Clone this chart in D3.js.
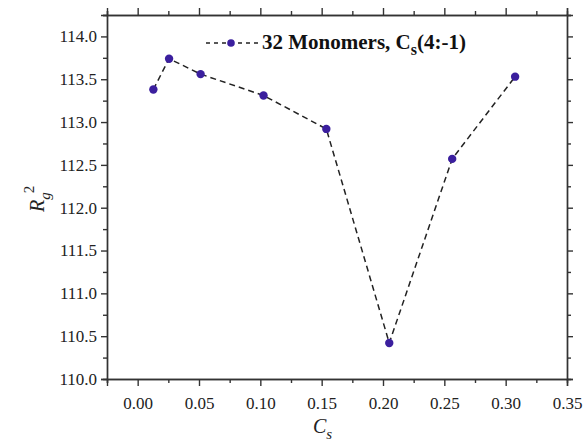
<!DOCTYPE html>
<html lang="en">
<head>
    <meta charset="UTF-8">
    <title>Rg2 vs Cs</title>
    <script src="https://d3js.org/d3.v7.min.js"></script>
    <style>
        body { margin: 0; background: #fff; }
        svg text { font-family: "Liberation Serif", "Times New Roman", Times, "DejaVu Serif", serif; }
        .tick text { font-size: 17px; fill: #222; }
        .axis path, .axis line { stroke: #333; stroke-width: 1.4px; }
        .series { fill: none; stroke: #222; stroke-width: 1.5px; stroke-dasharray: 6 4; }
        .dot { fill: #3b1f9e; }
    </style>
</head>
<body>
<svg id="chart" width="586" height="443"></svg>
<script>
    // data
    const cs = [0.0128, 0.0256, 0.0513, 0.1026, 0.1538, 0.2051, 0.2564, 0.3077];
    const rg2 = [113.38, 113.74, 113.56, 113.31, 112.92, 110.42, 112.57, 113.53];
    const xTicks = [0.00, 0.05, 0.10, 0.15, 0.20, 0.25, 0.30, 0.35];
    const yTicks = [110.0, 110.5, 111.0, 111.5, 112.0, 112.5, 113.0, 113.5, 114.0];
    const legendLabel = "32 Monomers, C";

    const mLeft = 107, mRight = 567, mTop = 15, mBottom = 379;
    const svg = d3.select("#chart");

    const x = d3.scaleLinear().domain([-0.025, 0.35]).range([mLeft, mRight]);
    const y = d3.scaleLinear().domain([110, 114.25]).range([mBottom, mTop]);

    const xMinor = d3.range(-0.025, 0.351, 0.025).filter(v => Math.abs(Math.round(v / 0.05) * 0.05 - v) > 1e-6);
    const yMinor = d3.range(110.25, 114.26, 0.5);

    // minor ticks first, then major axes on top
    const minor = (axis, vals) => axis.tickValues(vals).tickSize(4).tickFormat("");
    svg.append("g").attr("class", "axis").attr("transform", `translate(0,${mBottom})`).call(minor(d3.axisBottom(x), xMinor));
    svg.append("g").attr("class", "axis").attr("transform", `translate(0,${mTop})`).call(minor(d3.axisTop(x), xMinor));
    svg.append("g").attr("class", "axis").attr("transform", `translate(${mLeft},0)`).call(minor(d3.axisLeft(y), yMinor));
    svg.append("g").attr("class", "axis").attr("transform", `translate(${mRight},0)`).call(minor(d3.axisRight(y), yMinor));

    svg.append("g").attr("class", "axis").attr("transform", `translate(0,${mBottom})`)
        .call(d3.axisBottom(x).tickValues(xTicks).tickSize(7).tickPadding(11).tickFormat(d3.format(".2f")));
    svg.append("g").attr("class", "axis").attr("transform", `translate(0,${mTop})`)
        .call(d3.axisTop(x).tickValues(xTicks).tickSize(7).tickFormat(""));
    svg.append("g").attr("class", "axis").attr("transform", `translate(${mLeft},0)`)
        .call(d3.axisLeft(y).tickValues(yTicks).tickSize(6).tickPadding(4).tickFormat(d3.format(".1f")));
    svg.append("g").attr("class", "axis").attr("transform", `translate(${mRight},0)`)
        .call(d3.axisRight(y).tickValues(yTicks).tickSize(6).tickFormat(""));

    // d3 axes put font-family="sans-serif" on the group; drop it so the css serif applies
    svg.selectAll(".axis").attr("font-family", null);

    const pts = cs.map((c, i) => [c, rg2[i]]);

    svg.append("path")
        .datum(pts)
        .attr("class", "series")
        .attr("d", d3.line().x(d => x(d[0])).y(d => y(d[1])));

    svg.selectAll(".dot")
        .data(pts)
        .join("circle")
        .attr("class", "dot")
        .attr("cx", d => x(d[0]))
        .attr("cy", d => y(d[1]))
        .attr("r", 4.2);

    // legend
    const lg = svg.append("g").attr("transform", "translate(206,43)");
    lg.append("line").attr("x1", 0).attr("x2", 52).attr("y1", 0).attr("y2", 0)
        .attr("stroke", "#222").attr("stroke-width", 1.5).attr("stroke-dasharray", "4 4");
    lg.append("circle").attr("cx", 25).attr("cy", 0).attr("r", 3.8).attr("fill", "#3b1f9e");
    const lt = lg.append("text").attr("x", 56).attr("y", 6)
        .style("font-weight", "bold").style("font-size", "21px").attr("fill", "#111");
    lt.append("tspan").text(legendLabel);
    lt.append("tspan").attr("dy", 6).style("font-size", "16px").text("s");
    lt.append("tspan").attr("dy", -6).text("(4:-1)");

    // x axis title
    const xt = svg.append("text").attr("x", 313).attr("y", 433)
        .style("font-style", "italic").style("font-size", "20px").attr("fill", "#222");
    xt.append("tspan").text("C");
    xt.append("tspan").attr("dy", 6).style("font-size", "15px").text("s");

    // y axis title
    const yt = svg.append("text").attr("transform", "translate(44,212) rotate(-90)")
        .style("font-style", "italic").style("font-size", "20px").attr("fill", "#222");
    yt.append("tspan").text("R");
    yt.append("tspan").attr("dy", 6).style("font-size", "15px").text("g");
    yt.append("tspan").attr("dy", -16).attr("dx", -1).style("font-size", "15px").style("font-style", "normal").text("2");
</script>
</body>
</html>
